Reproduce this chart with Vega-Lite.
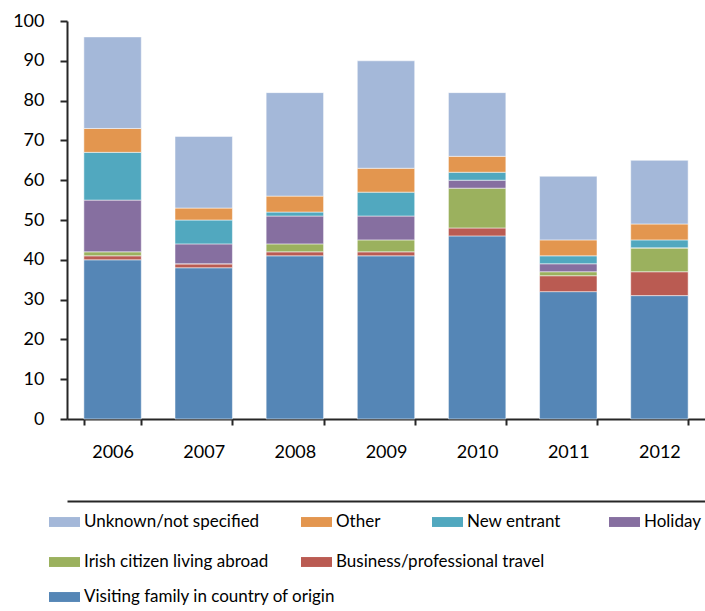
{
  "$schema": "https://vega.github.io/schema/vega-lite/v6.json",
  "autosize": {"type": "none"},
  "padding": {"left": 67, "top": 21, "right": 0, "bottom": 192},
  "width": 638,
  "height": 398,
  "config": {
    "font": "Lato",
    "view": {"stroke": null},
    "legend": {
      "title": null,
      "orient": "none",
      "padding": 0,
      "symbolType": "M-1,-0.32H1V0.32H-1Z",
      "symbolSize": 961,
      "symbolStrokeWidth": 0,
      "symbolOpacity": 1,
      "labelFontSize": 17,
      "labelColor": "#000000",
      "labelOffset": 4,
      "labelLimit": 400
    }
  },
  "data": {
    "values": [
      {"year": "2006", "cause": "Visiting family in country of origin", "rank": 1, "value": 40},
      {"year": "2006", "cause": "Business/professional travel", "rank": 2, "value": 1},
      {"year": "2006", "cause": "Irish citizen living abroad", "rank": 3, "value": 1},
      {"year": "2006", "cause": "Holiday", "rank": 4, "value": 13},
      {"year": "2006", "cause": "New entrant", "rank": 5, "value": 12},
      {"year": "2006", "cause": "Other", "rank": 6, "value": 6},
      {"year": "2006", "cause": "Unknown/not specified", "rank": 7, "value": 23},
      {"year": "2007", "cause": "Visiting family in country of origin", "rank": 1, "value": 38},
      {"year": "2007", "cause": "Business/professional travel", "rank": 2, "value": 1},
      {"year": "2007", "cause": "Irish citizen living abroad", "rank": 3, "value": 0},
      {"year": "2007", "cause": "Holiday", "rank": 4, "value": 5},
      {"year": "2007", "cause": "New entrant", "rank": 5, "value": 6},
      {"year": "2007", "cause": "Other", "rank": 6, "value": 3},
      {"year": "2007", "cause": "Unknown/not specified", "rank": 7, "value": 18},
      {"year": "2008", "cause": "Visiting family in country of origin", "rank": 1, "value": 41},
      {"year": "2008", "cause": "Business/professional travel", "rank": 2, "value": 1},
      {"year": "2008", "cause": "Irish citizen living abroad", "rank": 3, "value": 2},
      {"year": "2008", "cause": "Holiday", "rank": 4, "value": 7},
      {"year": "2008", "cause": "New entrant", "rank": 5, "value": 1},
      {"year": "2008", "cause": "Other", "rank": 6, "value": 4},
      {"year": "2008", "cause": "Unknown/not specified", "rank": 7, "value": 26},
      {"year": "2009", "cause": "Visiting family in country of origin", "rank": 1, "value": 41},
      {"year": "2009", "cause": "Business/professional travel", "rank": 2, "value": 1},
      {"year": "2009", "cause": "Irish citizen living abroad", "rank": 3, "value": 3},
      {"year": "2009", "cause": "Holiday", "rank": 4, "value": 6},
      {"year": "2009", "cause": "New entrant", "rank": 5, "value": 6},
      {"year": "2009", "cause": "Other", "rank": 6, "value": 6},
      {"year": "2009", "cause": "Unknown/not specified", "rank": 7, "value": 27},
      {"year": "2010", "cause": "Visiting family in country of origin", "rank": 1, "value": 46},
      {"year": "2010", "cause": "Business/professional travel", "rank": 2, "value": 2},
      {"year": "2010", "cause": "Irish citizen living abroad", "rank": 3, "value": 10},
      {"year": "2010", "cause": "Holiday", "rank": 4, "value": 2},
      {"year": "2010", "cause": "New entrant", "rank": 5, "value": 2},
      {"year": "2010", "cause": "Other", "rank": 6, "value": 4},
      {"year": "2010", "cause": "Unknown/not specified", "rank": 7, "value": 16},
      {"year": "2011", "cause": "Visiting family in country of origin", "rank": 1, "value": 32},
      {"year": "2011", "cause": "Business/professional travel", "rank": 2, "value": 4},
      {"year": "2011", "cause": "Irish citizen living abroad", "rank": 3, "value": 1},
      {"year": "2011", "cause": "Holiday", "rank": 4, "value": 2},
      {"year": "2011", "cause": "New entrant", "rank": 5, "value": 2},
      {"year": "2011", "cause": "Other", "rank": 6, "value": 4},
      {"year": "2011", "cause": "Unknown/not specified", "rank": 7, "value": 16},
      {"year": "2012", "cause": "Visiting family in country of origin", "rank": 1, "value": 31},
      {"year": "2012", "cause": "Business/professional travel", "rank": 2, "value": 6},
      {"year": "2012", "cause": "Irish citizen living abroad", "rank": 3, "value": 6},
      {"year": "2012", "cause": "Holiday", "rank": 4, "value": 0},
      {"year": "2012", "cause": "New entrant", "rank": 5, "value": 2},
      {"year": "2012", "cause": "Other", "rank": 6, "value": 4},
      {"year": "2012", "cause": "Unknown/not specified", "rank": 7, "value": 16}
    ]
  },
  "layer": [
    {
      "mark": {"type": "bar", "stroke": "#ffffff", "strokeWidth": 1, "strokeOpacity": 0.5},
      "encoding": {
        "x": {
          "field": "year",
          "type": "nominal",
          "scale": {"paddingInner": 0.37, "paddingOuter": 0.185},
          "axis": {
            "title": null,
            "labelAngle": 0,
            "labelFontSize": 18,
            "labelColor": "#000000",
            "labelPadding": 18,
            "tickBand": "extent",
            "tickSize": 6,
            "tickWidth": 2,
            "tickColor": "#262626",
            "domainColor": "#262626",
            "domainWidth": 2,
            "grid": false
          }
        },
        "y": {
          "field": "value",
          "type": "quantitative",
          "aggregate": "sum",
          "stack": "zero",
          "scale": {"domain": [0, 100], "nice": false},
          "axis": {
            "title": null,
            "values": [0, 10, 20, 30, 40, 50, 60, 70, 80, 90, 100],
            "labelOverlap": false,
            "labelFontSize": 18,
            "labelColor": "#000000",
            "labelPadding": 16,
            "tickSize": 7,
            "tickWidth": 2,
            "tickColor": "#262626",
            "domainColor": "#262626",
            "domainWidth": 2,
            "grid": false
          }
        },
        "order": {"field": "rank", "type": "quantitative", "sort": "ascending"},
        "color": {
          "field": "cause",
          "type": "nominal",
          "scale": {
            "domain": ["Unknown/not specified", "Other", "New entrant", "Holiday", "Irish citizen living abroad", "Business/professional travel", "Visiting family in country of origin"],
            "range": ["#A4B8D9", "#E3964F", "#51A8BF", "#866FA0", "#9BB15E", "#BA5B52", "#5586B6"]
          },
          "legend": null
        }
      }
    },
    {
      "mark": {"type": "point", "opacity": 0},
      "encoding": {
        "x": {
          "field": "year",
          "type": "nominal",
          "axis": {
            "title": null,
            "orient": "bottom",
            "offset": 82,
            "labels": false,
            "ticks": false,
            "domain": true,
            "domainColor": "#262626",
            "domainWidth": 2,
            "grid": false
          }
        }
      }
    },
    {
      "transform": [{"filter": "datum.cause === 'Unknown/not specified'"}],
      "mark": {"type": "point", "filled": true, "opacity": 0},
      "encoding": {
        "color": {"field": "cause", "type": "nominal",
          "scale": {"domain": ["Unknown/not specified"], "range": ["#A4B8D9"]},
          "legend": {"legendX": -18, "legendY": 485.5}}
      }
    },
    {
      "transform": [{"filter": "datum.cause === 'Other'"}],
      "mark": {"type": "point", "filled": true, "opacity": 0},
      "encoding": {
        "color": {"field": "cause", "type": "nominal",
          "scale": {"domain": ["Other"], "range": ["#E3964F"]},
          "legend": {"legendX": 234, "legendY": 485.5}}
      }
    },
    {
      "transform": [{"filter": "datum.cause === 'New entrant'"}],
      "mark": {"type": "point", "filled": true, "opacity": 0},
      "encoding": {
        "color": {"field": "cause", "type": "nominal",
          "scale": {"domain": ["New entrant"], "range": ["#51A8BF"]},
          "legend": {"legendX": 365, "legendY": 485.5}}
      }
    },
    {
      "transform": [{"filter": "datum.cause === 'Holiday'"}],
      "mark": {"type": "point", "filled": true, "opacity": 0},
      "encoding": {
        "color": {"field": "cause", "type": "nominal",
          "scale": {"domain": ["Holiday"], "range": ["#866FA0"]},
          "legend": {"legendX": 542, "legendY": 485.5}}
      }
    },
    {
      "transform": [{"filter": "datum.cause === 'Irish citizen living abroad'"}],
      "mark": {"type": "point", "filled": true, "opacity": 0},
      "encoding": {
        "color": {"field": "cause", "type": "nominal",
          "scale": {"domain": ["Irish citizen living abroad"], "range": ["#9BB15E"]},
          "legend": {"legendX": -18, "legendY": 525.5}}
      }
    },
    {
      "transform": [{"filter": "datum.cause === 'Business/professional travel'"}],
      "mark": {"type": "point", "filled": true, "opacity": 0},
      "encoding": {
        "color": {"field": "cause", "type": "nominal",
          "scale": {"domain": ["Business/professional travel"], "range": ["#BA5B52"]},
          "legend": {"legendX": 234, "legendY": 525.5}}
      }
    },
    {
      "transform": [{"filter": "datum.cause === 'Visiting family in country of origin'"}],
      "mark": {"type": "point", "filled": true, "opacity": 0},
      "encoding": {
        "color": {"field": "cause", "type": "nominal",
          "scale": {"domain": ["Visiting family in country of origin"], "range": ["#5586B6"]},
          "legend": {"legendX": -18, "legendY": 560.5}}
      }
    }
  ],
  "resolve": {"scale": {"x": "independent", "color": "independent"}, "axis": {"x": "independent"}}
}
